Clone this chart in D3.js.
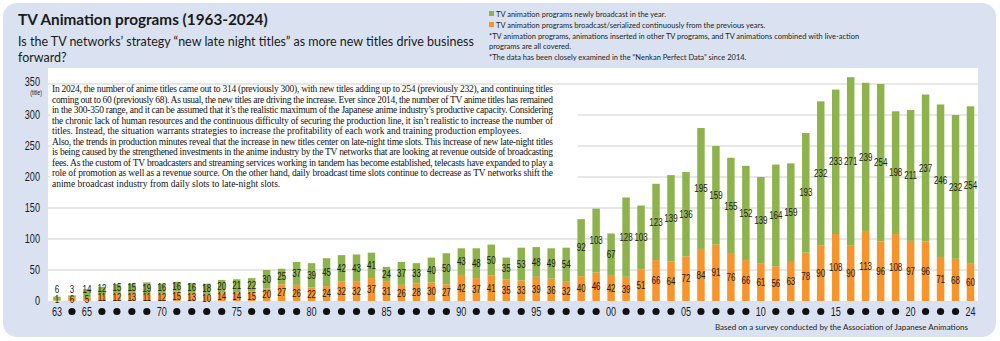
<!DOCTYPE html>
<html>
<head>
<meta charset="utf-8">
<script src="https://cdn.jsdelivr.net/npm/d3@7"></script>
<style>
  body { margin: 0; background: #fff; }
  svg { display: block; }
</style>
</head>
<body>
<div id="chart"></div>
<script>
// data (1963-2024)
var years = d3.range(1963, 2025);
var newTitles = [6, 3, 14, 12, 15, 15, 19, 16, 16, 16, 18, 20, 21, 22, 30, 25, 37, 39, 45, 42,
  43, 41, 24, 37, 33, 40, 50, 43, 48, 50, 35, 53, 48, 49, 54, 92, 103, 67, 128, 103,
  123, 139, 136, 195, 159, 155, 152, 139, 164, 159, 193, 232, 233, 271, 239, 254, 198, 211, 237, 246,
  232, 254];
var continuing = [1, 6, 5, 11, 12, 13, 11, 12, 15, 13, 10, 14, 14, 15, 20, 27, 26, 22, 24, 32,
  32, 37, 31, 26, 28, 30, 27, 42, 37, 41, 35, 33, 39, 36, 32, 40, 46, 42, 39, 51,
  66, 64, 72, 84, 91, 76, 66, 61, 56, 63, 78, 90, 108, 90, 113, 96, 108, 97, 96, 71,
  68, 60];
var yTicks = [0, 50, 100, 150, 200, 250, 300, 350];

var paragraph = [
  "In 2024, the number of anime titles came out to 314 (previously 300), with new titles adding up to 254 (previously 232), and continuing titles",
  "coming out to 60 (previously 68). As usual, the new titles are driving the increase. Ever since 2014, the number of TV anime titles has remained",
  "in the 300-350 range, and it can be assumed that it\u2019s the realistic maximum of the Japanese anime industry\u2019s productive capacity. Considering",
  "the chronic lack of human resources and the continuous difficulty of securing the production line, it isn\u2019t realistic to increase the number of",
  "titles. Instead, the situation warrants strategies to increase the profitability of each work and training production employees.",
  "Also, the trends in production minutes reveal that the increase in new titles center on late-night time slots. This increase of new late-night titles",
  "is being caused by the strengthened investments in the anime industry by the TV networks that are looking at revenue outside of broadcasting",
  "fees. As the custom of TV broadcasters and streaming services working in tandem has become established, telecasts have expanded to play a",
  "role of promotion as well as a revenue source. On the other hand, daily broadcast time slots continue to decrease as TV networks shift the",
  "anime broadcast industry from daily slots to late-night slots."
];
var justified = [true, true, true, true, false, true, true, true, true, false];

var green = "#8fb34c";
var orange = "#f7952c";
var panelBlue = "#dae2f1";
var numFont = "'Liberation Sans', Arial, sans-serif";
var sansFont = "Lato, 'Open Sans', sans-serif";
var squeeze = 0.76; // horizontal squeeze to mimic the condensed numerals

var svgWidth = 1000, svgHeight = 341;
var svg = d3.select("#chart").append("svg")
  .attr("width", svgWidth)
  .attr("height", svgHeight);

// background panel
svg.append("rect")
  .attr("x", 3).attr("y", 3)
  .attr("width", 993).attr("height", 334)
  .attr("rx", 14)
  .attr("fill", panelBlue);

var plotLeft = 48, plotRight = 978;

var x = d3.scaleBand()
  .domain(years)
  .range([49.5, 978])
  .paddingInner(0.5)
  .paddingOuter(0.25);

var y = d3.scaleLinear()
  .domain([0, 350])
  .range([301, 84]);

// condensed text helper
function narrowText(g, tx, ty, str, size, anchor) {
  return g.append("text")
    .attr("transform", `translate(${tx},${ty}) scale(${squeeze},1)`)
    .attr("dy", "0.35em")
    .attr("text-anchor", anchor || "middle")
    .attr("font-family", numFont)
    .attr("font-size", size)
    .attr("fill", "#1a1a1a")
    .text(str);
}

// white plot area
svg.append("rect")
  .attr("x", plotLeft).attr("y", 68)
  .attr("width", plotRight - plotLeft).attr("height", y(0) - 68)
  .attr("fill", "#fff");

// gridlines
svg.append("g")
  .selectAll("line")
  .data(yTicks.filter(d => d > 0))
  .enter().append("line")
  .attr("x1", plotLeft).attr("x2", plotRight)
  .attr("y1", d => y(d)).attr("y2", d => y(d))
  .attr("stroke", "#cfcfcf")
  .attr("stroke-width", 1.2);

// y labels
var yLab = svg.append("g");
yTicks.forEach(function(t) {
  narrowText(yLab, 40, t === 350 ? y(t) - 2.5 : y(t), t, 12, "end");
});
narrowText(yLab, 42, 92.5, "(title)", 7, "end");

// paragraph with white backing over the gridlines
var textLeft = 52, textRight = 553;
svg.append("rect")
  .attr("x", textLeft - 2).attr("y", 85)
  .attr("width", 528).attr("height", 104)
  .attr("fill", "#fff");

svg.append("g")
  .selectAll("text")
  .data(paragraph)
  .enter().append("text")
  .attr("x", textLeft)
  .attr("y", (d, i) => 92 + i * 10.5)
  .attr("font-family", "'Liberation Serif', 'DejaVu Serif', serif")
  .attr("font-size", 9.5)
  .attr("fill", "#111")
  .each(function(d, i) {
    if (justified[i]) {
      d3.select(this).attr("textLength", textRight - textLeft).attr("lengthAdjust", "spacing");
    }
  })
  .text(d => d);

// stacked bars
var rows = years.map((yr, i) => ({ year: yr, cont: continuing[i], fresh: newTitles[i] }));

var bars = svg.append("g");
bars.selectAll("rect.cont")
  .data(rows)
  .enter().append("rect")
  .attr("class", "cont")
  .attr("x", d => x(d.year))
  .attr("width", x.bandwidth())
  .attr("y", d => y(d.cont))
  .attr("height", d => y(0) - y(d.cont))
  .attr("fill", orange);

bars.selectAll("rect.fresh")
  .data(rows)
  .enter().append("rect")
  .attr("class", "fresh")
  .attr("x", d => x(d.year))
  .attr("width", x.bandwidth())
  .attr("y", d => y(d.cont + d.fresh))
  .attr("height", d => y(d.cont) - y(d.cont + d.fresh))
  .attr("fill", green);

// value labels, centred in each segment; small ones pushed apart
function contY(d) { return Math.min((y(0) + y(d.cont)) / 2, y(0) - 2); }
function freshY(d) {
  var mid = (y(d.cont) + y(d.cont + d.fresh)) / 2;
  return Math.min(mid, contY(d) - 9.5);
}

var labels = svg.append("g");
rows.forEach(function(d) {
  var cx = x(d.year) + x.bandwidth() / 2;
  narrowText(labels, cx, contY(d), d.cont, 10.5);
  narrowText(labels, cx, freshY(d), d.fresh, 10.5);
});

// x axis: year labels every 5 years, dots in between
var xAxis = svg.append("g");
rows.forEach(function(d) {
  var cx = x(d.year) + x.bandwidth() / 2;
  var show = d.year === 1963 || d.year === 2024 || d.year % 5 === 0;
  if (show) {
    narrowText(xAxis, cx, 311.5, String(d.year).slice(2), 12);
  } else {
    xAxis.append("circle")
      .attr("cx", cx).attr("cy", 311.5)
      .attr("r", 3.6)
      .attr("fill", "#111");
  }
});

svg.append("text")
  .attr("x", 968).attr("y", 330)
  .attr("text-anchor", "end")
  .attr("font-family", sansFont)
  .attr("font-size", 8)
  .attr("fill", "#222")
  .text("Based on a survey conducted by the Association of Japanese Animations");

// title and subtitle
svg.append("text")
  .attr("x", 18).attr("y", 25)
  .attr("font-family", sansFont)
  .attr("font-weight", "bold")
  .attr("font-size", 15.3)
  .attr("fill", "#1a1a1a")
  .text("TV Animation programs (1963-2024)");

svg.append("text")
  .attr("x", 18).attr("y", 46)
  .attr("font-family", sansFont)
  .attr("font-size", 12.5)
  .attr("fill", "#1a1a1a")
  .text("Is the TV networks\u2019 strategy \u201cnew late night titles\u201d as more new titles drive business");

svg.append("text")
  .attr("x", 18).attr("y", 62)
  .attr("font-family", sansFont)
  .attr("font-size", 12.5)
  .attr("fill", "#1a1a1a")
  .text("forward?");

// legend and notes
var legend = svg.append("g")
  .attr("font-family", sansFont)
  .attr("font-size", 7.5)
  .attr("fill", "#222");

legend.append("rect").attr("x", 489).attr("y", 11).attr("width", 5).attr("height", 5).attr("fill", green);
legend.append("text").attr("x", 496).attr("y", 16.5).text("TV animation programs newly broadcast in the year.");
legend.append("rect").attr("x", 489).attr("y", 22).attr("width", 5).attr("height", 5).attr("fill", orange);
legend.append("text").attr("x", 496).attr("y", 27.5).text("TV animation programs broadcast/serialized continuously from the previous years.");
legend.append("text").attr("x", 489).attr("y", 38.5).text("*TV animation programs, animations inserted in other TV programs, and TV animations combined with live-action");
legend.append("text").attr("x", 489).attr("y", 49).text("programs are all covered.");
legend.append("text").attr("x", 489).attr("y", 59.5).text("*The data has been closely examined in the \u201cNenkan Perfect Data\u201d since 2014.");
</script>
</body>
</html>
